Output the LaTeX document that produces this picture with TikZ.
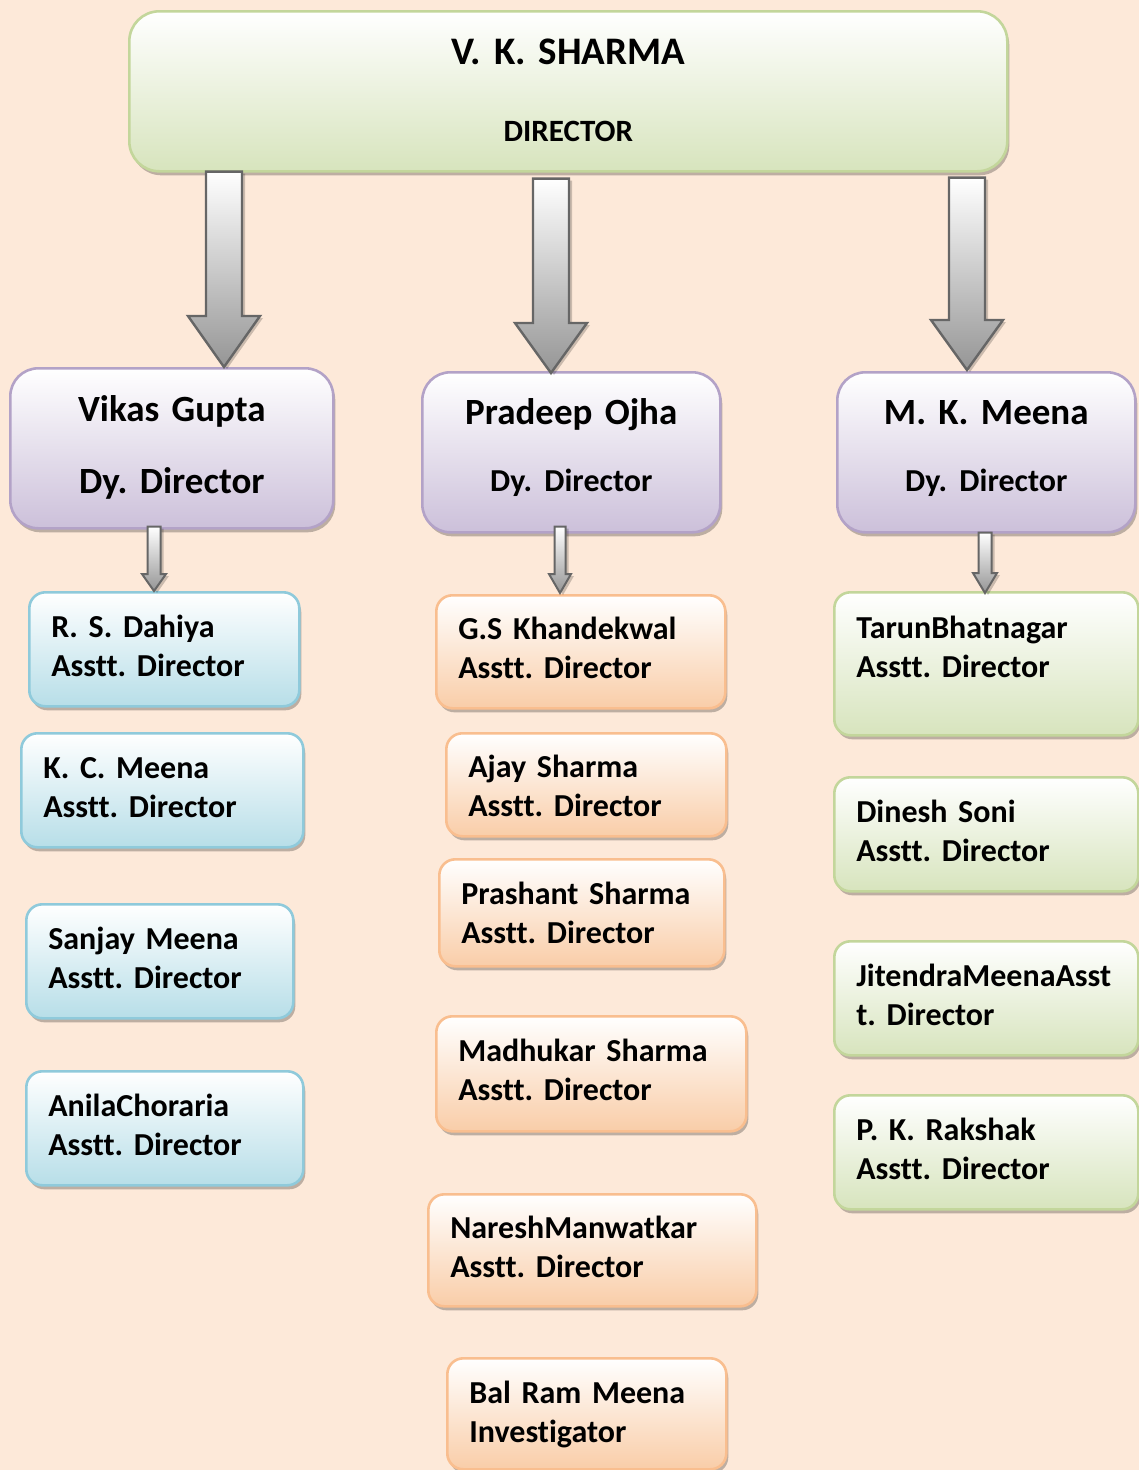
\documentclass[tikz,border=0pt]{standalone}
\usepackage{fontspec}
\setmainfont{Carlito}[Ligatures=NoCommon]
\frenchspacing
\usetikzlibrary{shadows,calc}
\definecolor{bgpeach}{HTML}{FDE9D9}
\definecolor{grnB}{HTML}{C3D69B}
\definecolor{grnF}{HTML}{D7E4BD}
\definecolor{purB}{HTML}{B3A2C7}
\definecolor{purF}{HTML}{CCC0DA}
\definecolor{bluB}{HTML}{8FCADB}
\definecolor{bluF}{HTML}{B7DEE8}
\definecolor{orgB}{HTML}{F9BE8F}
\definecolor{orgF}{HTML}{F9CDA8}
\definecolor{arrB}{HTML}{666666}
\definecolor{arrF}{HTML}{959595}
\tikzset{
  boxbase/.style={rectangle, line width=2.6pt, inner ysep=0pt, anchor=north west,
    drop shadow={shadow xshift=2pt, shadow yshift=-4pt, fill=black, opacity=0.25}},
  headbox/.style={boxbase, rounded corners=30pt, draw=grnB, top color=white, bottom color=grnF,
    align=center, inner xsep=0pt},
  dybox/.style={boxbase, rounded corners=28pt, draw=purB, top color=white, bottom color=purF,
    align=center, inner xsep=0pt},
  asstbox/.style={boxbase, rounded corners=16pt, inner xsep=22pt, align=left,
    font=\fontsize{32}{39}\selectfont\bfseries\frenchspacing},
  bluebox/.style={asstbox, draw=bluB, top color=white, bottom color=bluF},
  orgbox/.style={asstbox, draw=orgB, top color=white, bottom color=orgF},
  grnbox/.style={asstbox, draw=grnB, top color=white, bottom color=grnF},
  blockarr/.style={draw=arrB, line width=2.4pt, line join=miter, top color=white, bottom color=arrF,
    drop shadow={shadow xshift=3pt, shadow yshift=-2pt, fill=black, opacity=0.2}},
  smallarr/.style={blockarr, line width=2pt}
}
% #1 start coordinate, #2 tip coordinate, #3 half shaft, #4 half head, #5 head length, #6 style
\newcommand\blockarrow[6]{%
  \path[#6] let \p1=(#1), \p2=(#2) in
    (\x2-#3,\y1) -- (\x2+#3,\y1) -- (\x2+#3,\y2+#5) -- (\x2+#4,\y2+#5) -- (\x2,\y2)
    -- (\x2-#4,\y2+#5) -- (\x2-#3,\y2+#5) -- cycle;}
\begin{document}
\begin{tikzpicture}[x=1pt,y=1pt]
\useasboundingbox (0,0) rectangle (1139,-1470);
\fill[bgpeach] (0,0) rectangle (1139,-1470);

% Director
\node[headbox, minimum width=878pt, text width=878pt, text height=53pt, text depth=107pt,
  font=\fontsize{39}{77}\selectfont\bfseries\frenchspacing] (top) at (128,-10)
  {V. K. SHARMA\\{\fontsize{31}{77}\selectfont DIRECTOR}};

% Deputy directors
\node[dybox, minimum width=323pt, text width=323pt, text height=53pt, text depth=107pt,
  font=\fontsize{37}{72}\selectfont\bfseries\frenchspacing] (dy1) at (9,-367)
  {Vikas Gupta\\Dy. Director};
\node[dybox, minimum width=298pt, text width=298pt, text height=52pt, text depth=108pt,
  font=\fontsize{37}{67}\selectfont\bfseries\frenchspacing] (dy2) at (421,-371)
  {Pradeep Ojha\\{\fontsize{32}{67}\selectfont Dy. Director}};
\node[dybox, minimum width=298pt, text width=298pt, text height=52pt, text depth=108pt,
  font=\fontsize{37}{67}\selectfont\bfseries\frenchspacing] (dy3) at (836,-371)
  {M. K. Meena\\{\fontsize{32}{67}\selectfont Dy. Director}};

% Blue column
\node[bluebox, text width=226pt, text height=45pt, text depth=69pt] (b1) at (28,-591)
  {R. S. Dahiya\\Asstt. Director};
\node[bluebox, text width=238pt, text height=45pt, text depth=69pt] (b2) at (20,-732)
  {K. C. Meena\\Asstt. Director};
\node[bluebox, text width=223pt, text height=45pt, text depth=69pt] (b3) at (25,-903)
  {Sanjay Meena\\Asstt. Director};
\node[bluebox, text width=233pt, text height=45pt, text depth=69pt] (b4) at (25,-1070)
  {AnilaChoraria\\Asstt. Director};

% Orange column
\node[orgbox, text width=245pt, text height=44pt, text depth=69pt] (o1) at (435,-594)
  {G.S Khandekwal\\Asstt. Director};
\node[orgbox, text width=236pt, text height=44pt, text depth=59pt] (o2) at (445,-732)
  {Ajay Sharma\\Asstt. Director};
\node[orgbox, text width=241pt, text height=45pt, text depth=62pt] (o3) at (438,-858)
  {Prashant Sharma\\Asstt. Director};
\node[orgbox, text width=266pt, text height=45pt, text depth=70pt] (o4) at (435,-1015)
  {Madhukar Sharma\\Asstt. Director};
\node[orgbox, text width=284pt, text height=44pt, text depth=68pt] (o5) at (427,-1193)
  {NareshManwatkar\\Asstt. Director};
\node[orgbox, text width=235pt, text height=45pt, text depth=66pt] (o6) at (446,-1357)
  {Bal Ram Meena\\Investigator};

% Green column
\node[grnbox, text width=260pt, text height=46pt, text depth=97pt] (g1) at (833,-591)
  {TarunBhatnagar\\Asstt. Director};
\node[grnbox, text width=260pt, text height=45pt, text depth=69pt] (g2) at (833,-776)
  {Dinesh Soni\\Asstt. Director};
\node[grnbox, text width=260pt, text height=45pt, text depth=69pt] (g3) at (833,-940)
  {JitendraMeenaAsst\\t. Director};
\node[grnbox, text width=260pt, text height=45pt, text depth=69pt] (g4) at (833,-1094)
  {P. K. Rakshak\\Asstt. Director};

% Big arrows
\coordinate (a1s) at ($(top.south -| 224,0)+(0,1)$);
\coordinate (a1t) at (dy1.north -| 224,0);
\coordinate (a2s) at ($(top.south -| 551,0)+(0,-6)$);
\coordinate (a2t) at ($(dy2.north -| 551,0)+(0,-2)$);
\coordinate (a3s) at ($(top.south -| 967,0)+(0,-5)$);
\coordinate (a3t) at ($(dy3.north -| 967,0)+(0,1)$);
\blockarrow{a1s}{a1t}{18pt}{36pt}{51pt}{blockarr}
\blockarrow{a2s}{a2t}{18pt}{36pt}{50pt}{blockarr}
\blockarrow{a3s}{a3t}{18pt}{36pt}{50pt}{blockarr}

% Small arrows
\coordinate (s1s) at ($(dy1.south -| 154,0)+(0,3)$);
\coordinate (s1t) at (b1.north -| 154,0);
\coordinate (s2s) at ($(dy2.south -| 560,0)+(0,7)$);
\coordinate (s2t) at ($(o1.north -| 560,0)+(0,1)$);
\coordinate (s3s) at ($(dy3.south -| 985,0)+(0,1)$);
\coordinate (s3t) at ($(g1.north -| 985,0)+(0,-2)$);
\blockarrow{s1s}{s1t}{6.5pt}{12pt}{17pt}{smallarr}
\blockarrow{s2s}{s2t}{5.5pt}{11pt}{19pt}{smallarr}
\blockarrow{s3s}{s3t}{6.5pt}{12pt}{20pt}{smallarr}
\end{tikzpicture}
\end{document}
